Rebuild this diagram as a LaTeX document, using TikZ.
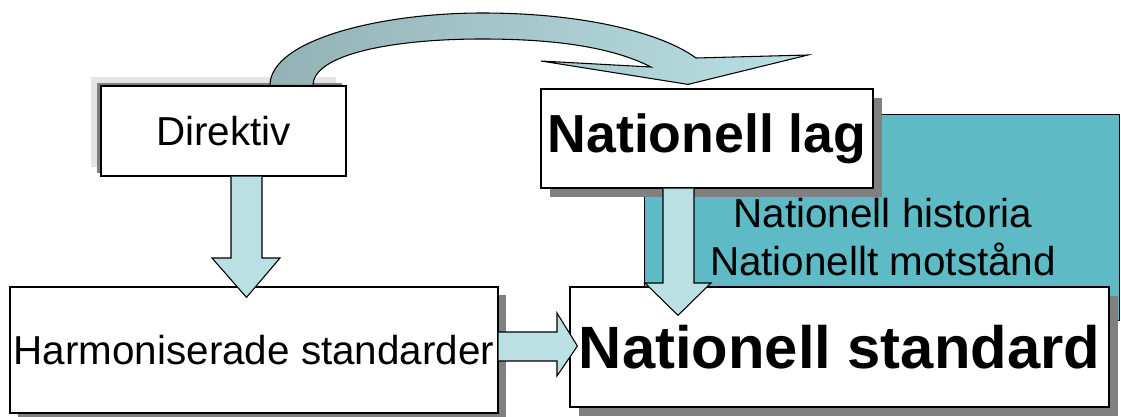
\documentclass[tikz,border=0pt]{standalone}
\usepackage{fontspec}
\setmainfont{Liberation Sans}
\usetikzlibrary{calc,shadows}
\definecolor{tealbg}{RGB}{94,186,197}
\definecolor{arrowblue}{RGB}{186,224,228}
\definecolor{arrowdark}{RGB}{148,178,182}
\definecolor{shadowdark}{RGB}{128,128,128}
\definecolor{shadowlight}{RGB}{228,228,228}
\begin{document}
\begin{tikzpicture}[x=0.75pt,y=-0.75pt,
  box/.style={draw=black, line width=0.9pt, fill=white, inner sep=0pt},
  darkshadow/.style={general shadow={fill=shadowdark, draw=none, opacity=1, shadow xshift=#1, shadow yshift=-#1}},
  blockarrow/.style={draw=black, line width=0.8pt, fill=arrowblue, line join=miter},
  normtext/.style={font=\fontsize{30.3pt}{35.5pt}\selectfont},
  ]
\useasboundingbox (0,0) rectangle (1121,417);

% teal context area
\node[draw=black, line width=0.6pt, fill=tealbg, inner sep=0pt,
      minimum width=475*0.75pt, minimum height=206*0.75pt] (ctx) at (881.5,217) {};
\node[normtext, align=center, inner sep=0pt] (ctxtext) at (883,237)
  {Nationell historia\\Nationellt motstånd};

% boxes
\node[box, normtext, minimum width=245*0.75pt, minimum height=90*0.75pt,
      general shadow={fill=shadowlight, draw=none, opacity=1, shadow xshift=-7.5pt, shadow yshift=7pt},
      general shadow={fill=shadowdark, draw=none, opacity=1, shadow xshift=-3pt, shadow yshift=2.5pt}]
  (dir) at (223.5,131) {Direktiv};
\node[box, darkshadow=7pt, font=\bfseries\fontsize{40.2pt}{45pt}\selectfont,
      minimum width=332*0.75pt, minimum height=99*0.75pt]
  (nl) at (707,138.5) {Nationell lag};
\node[box, darkshadow=6pt, normtext, minimum width=488*0.75pt, minimum height=126*0.75pt]
  (harm) at (254,350) {Harmoniserade standarder};
\node[box, darkshadow=6.5pt, font=\bfseries\fontsize{44.8pt}{50pt}\selectfont,
      minimum width=539*0.75pt, minimum height=120*0.75pt]
  (ns) at (839.5,347) {Nationell standard};

% curved arrow Direktiv -> Nationell lag
\draw[line width=0.8pt, line join=miter, left color=arrowdark, right color=arrowblue]
  (270,0 |- dir.north) .. controls (270,40) and (380,13) .. (482,13)
  .. controls (590,13) and (665,35) .. (696,58)
  -- (808,55) -- ($(688,0 |- nl.north)+(0,-4)$) -- (541,61) -- (651,67)
  .. controls (610,46) and (550,39) .. (482,39)
  .. controls (390,39) and (313,55) .. (313,0 |- dir.north) -- cycle;

% Direktiv -> Harmoniserade
\draw[blockarrow] (231,0 |- dir.south) -- (231,258) -- (212,258)
  -- ($(246.5,0 |- harm.north)+(0,11)$) -- (280,258) -- (262,258) -- (262,0 |- dir.south);

% Nationell lag -> Nationell standard
\draw[blockarrow] (663,0 |- nl.south) -- (663,283) -- (645,283)
  -- ($(678,0 |- ns.north)+(0,29)$) -- (711,283) -- (694,283) -- (694,0 |- nl.south);

% Harmoniserade -> Nationell standard
\draw[blockarrow] (harm.east |- 0,332) -- (557,332) -- (557,313)
  -- ($(ns.west |- 0,346)+(8,0)$) -- (557,376) -- (557,361) -- (harm.east |- 0,361);
\end{tikzpicture}
\end{document}
